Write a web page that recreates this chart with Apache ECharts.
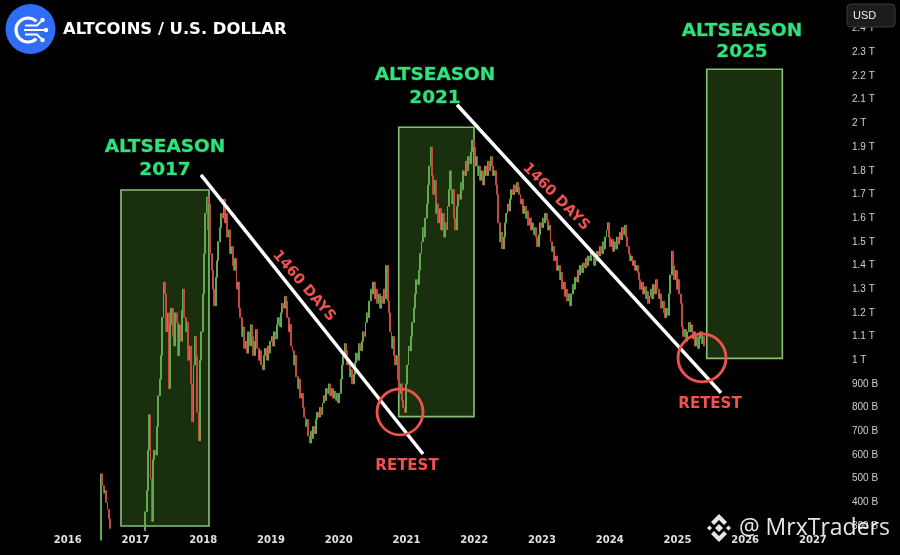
<!DOCTYPE html>
<html><head><meta charset="utf-8">
<script src="https://cdn.jsdelivr.net/npm/echarts@6/dist/echarts.min.js"></script>
<style>html,body{margin:0;padding:0;background:#000;}#c{width:900px;height:555px;}</style>
</head><body><div id="c"></div>
<script>
// weekly closes (in trillions USD), first week at startYear
const startYear = 2016.472;
const weekStep = 1 / 52;
const seg2016 = [0.24,0.52,0.47,0.44,0.45,0.40,0.37,0.33,0.29,0.28,0.27,0.26,0.27,0.25,0.26,0.24,0.25,0.23,0.24,0.22,0.23,0.22,0.24,0.23,0.25,0.24,0.26,0.25,0.27,0.26,0.28,0.27,0.28,0.27,0.28];
const seg2017 = [0.36,0.45,0.62,0.77,0.50,0.32,0.58,0.62,0.60,0.72,0.85,0.92,1.02,1.18,1.33,1.28,1.12,1.20,0.88,1.15,1.22,1.10,1.06,1.20,1.16,1.02,1.15,1.08,1.21,1.30,1.18,1.12,1.16,1.00,1.06,0.90,0.74,0.98,1.10,1.02,0.78,0.66,1.00,1.12];
const seg2018 = [1.28,1.45,1.62,1.69,1.55,1.66,1.45,1.38,1.30,1.23,1.35,1.42,1.50,1.56,1.62,1.60,1.68,1.58,1.62,1.52,1.55,1.45,1.48,1.40,1.38,1.43,1.30,1.33,1.22,1.18,1.10,1.14,1.05,1.08,1.03,1.12,1.06,1.15,1.10,1.02,1.08,1.13,1.05,1.00,1.04,0.98,0.96,1.02,1.05,1.00,1.06,1.03];
const seg2019 = [1.08,1.10,1.06,1.12,1.09,1.15,1.18,1.14,1.20,1.24,1.22,1.27,1.25,1.18,1.12,1.15,1.06,1.04,0.98,1.02,0.93,0.88,0.92,0.84,0.86,0.80,0.76,0.72,0.75,0.68,0.65,0.70,0.67,0.72,0.69,0.75,0.78,0.76,0.80,0.77,0.82,0.85,0.83,0.88,0.86,0.90,0.85,0.88,0.84,0.87,0.83,0.86,0.82,0.86];
const seg2020 = [0.92,0.98,1.02,1.07,1.04,0.98,1.00,0.93,0.96,0.90,0.94,0.99,1.03,1.00,1.07,1.04,1.08,1.12,1.10,1.16,1.20,1.18,1.25,1.30,1.28,1.33,1.26,1.30,1.24,1.28,1.22,1.27,1.24,1.30,1.26,1.40,1.25,1.20,1.12,1.05,1.10,1.02,0.98,1.02,0.92,0.86,0.90,0.83,0.80,0.78];
const seg2021 = [0.90,0.98,1.06,1.04,1.10,1.16,1.22,1.28,1.34,1.32,1.38,1.45,1.50,1.56,1.52,1.60,1.66,1.74,1.82,1.90,1.78,1.70,1.76,1.62,1.66,1.58,1.64,1.55,1.62,1.52,1.58,1.55,1.65,1.72,1.80,1.66,1.72,1.60,1.55,1.65,1.70,1.68,1.75,1.72,1.80,1.78,1.84,1.80,1.86,1.83,1.88,1.93];
const seg2022 = [1.90,1.82,1.86,1.78,1.82,1.76,1.80,1.74,1.78,1.82,1.78,1.84,1.80,1.86,1.82,1.78,1.80,1.74,1.70,1.58,1.50,1.54,1.47,1.52,1.58,1.62,1.66,1.63,1.68,1.72,1.70,1.74,1.71,1.75,1.73,1.70,1.66,1.68,1.62,1.65,1.60,1.63,1.57,1.60,1.55,1.58,1.53,1.56,1.52,1.48,1.53,1.58];
const seg2023 = [1.56,1.60,1.58,1.62,1.59,1.55,1.57,1.50,1.46,1.48,1.42,1.44,1.38,1.40,1.34,1.37,1.30,1.33,1.27,1.30,1.25,1.28,1.23,1.28,1.32,1.30,1.35,1.33,1.38,1.36,1.40,1.37,1.41,1.39,1.43,1.40,1.44,1.42,1.46,1.44,1.40,1.43,1.42,1.46,1.44,1.48,1.45,1.50,1.47,1.52,1.55,1.58];
const seg2024 = [1.52,1.48,1.51,1.46,1.50,1.47,1.52,1.49,1.54,1.51,1.56,1.53,1.57,1.52,1.48,1.45,1.42,1.44,1.40,1.42,1.38,1.40,1.37,1.34,1.30,1.33,1.28,1.31,1.26,1.29,1.24,1.27,1.30,1.26,1.32,1.28,1.34,1.30,1.26,1.28,1.22,1.25,1.20,1.18,1.22,1.19,1.28,1.36,1.46,1.40,1.34,1.38,1.30];
const seg2025 = [1.34,1.28,1.24,1.14,1.10,1.13,1.08,1.12,1.16,1.12,1.15,1.09,1.12,1.06,1.10,1.05,1.09,1.12,1.07,1.10,1.06];

// annotations in data coordinates [year, trillions]
const seasonBoxes = [
  [[2016.786, 0.30], [2018.085, 1.719]],
  [[2020.886, 0.762], [2021.997, 1.984]],
  [[2025.433, 1.008], [2026.549, 2.229]]
];
const trendLines = [
  [[2017.967, 1.783], [2021.245, 0.604]],
  [[2021.746, 2.079], [2025.644, 0.862]]
];
const retestPoints = [[2020.905, 0.782], [2025.363, 1.010]];

const closes = [].concat(seg2016, seg2017, seg2018, seg2019, seg2020, seg2021, seg2022, seg2023, seg2024, seg2025);
const candles = closes.map((c, i) => {
  const o = i === 0 ? c : closes[i - 1];
  return [startYear + i * weekStep, o, c, Math.min(o, c), Math.max(o, c)];
});

function yFmt(v) {
  const r = Math.round(v * 10) / 10;
  if (r >= 1) return r + ' T';
  return Math.round(r * 1000) + ' B';
}

const GREEN = '#2fe27c';
const RED = '#f0524f';
const seasonFont = 'bold 18.5px "DejaVu Sans"';
function seasonText(x, y, t) {
  return { type: 'text', x: x, y: y, z: 50, style: { text: t, fill: GREEN, font: seasonFont, align: 'center', verticalAlign: 'middle', stroke: 'rgba(47,226,124,0.35)', lineWidth: 0.8, shadowBlur: 14, shadowColor: 'rgba(47,226,124,0.9)' } };
}
function redText(x, y, t, rot, size) {
  return { type: 'text', x: x, y: y, rotation: rot, z: 50, style: { text: t, fill: RED, font: 'bold ' + size + 'px "DejaVu Sans"', align: 'center', verticalAlign: 'middle' } };
}
const WM = 'rgba(255,255,255,0.9)';

const chart = echarts.init(document.getElementById('c'), null, { renderer: 'canvas' });
chart.setOption({
  backgroundColor: '#000000',
  animation: false,
  grid: { left: 0, right: 60, top: 5, bottom: 29 },
  xAxis: {
    type: 'value', min: 2015, max: 2027.4, interval: 1,
    axisLine: { show: false }, axisTick: { show: false }, splitLine: { show: false },
    axisLabel: { color: '#e0e0e0', fontSize: 10, fontWeight: 'bold', fontFamily: 'DejaVu Sans', margin: 9, showMinLabel: false, showMaxLabel: false, formatter: v => String(Math.round(v)) }
  },
  yAxis: {
    type: 'value', position: 'right', min: 0.3, max: 2.5, interval: 0.1,
    axisLine: { show: false }, axisTick: { show: false }, splitLine: { show: false },
    axisLabel: { color: '#d0d0d0', fontSize: 10, fontFamily: 'Liberation Sans', margin: 12, showMaxLabel: false, formatter: yFmt }
  },
  series: [
    {
      type: 'candlestick', data: candles, barWidth: 1.4, z: 3, clip: true, silent: true,
      itemStyle: { color: '#62a84e', color0: '#c44a40', borderColor: '#62a84e', borderColor0: '#c44a40', borderWidth: 1 },
      markArea: {
        silent: true, z: 1,
        itemStyle: { color: '#1a2f0e', borderColor: '#87c178', borderWidth: 1.6 },
        label: { show: false },
        data: seasonBoxes.map(b => [{ coord: b[0] }, { coord: b[1] }])
      }
    },
    {
      type: 'scatter', z: 6, clip: false, silent: true,
      data: retestPoints.map((p, i) => ({ value: p, symbolSize: i === 0 ? 46 : 48 })),
      symbol: 'circle',
      itemStyle: { color: 'rgba(0,0,0,0)', borderColor: '#f0524f', borderWidth: 2.8, opacity: 1 },
      markLine: {
        silent: true, z: 5, symbol: ['none', 'none'],
        label: { show: false },
        lineStyle: { color: '#ffffff', width: 3.5, type: 'solid', opacity: 1 },
        data: trendLines.map(l => [{ coord: l[0] }, { coord: l[1] }])
      }
    }
  ],
  graphic: [
    // logo
    { type: 'circle', shape: { cx: 30.5, cy: 29, r: 25 }, style: { fill: '#2f6df6' }, z: 50 },
    { type: 'arc', shape: { cx: 28, cy: 30, r: 12, startAngle: 0.8, endAngle: Math.PI * 2 - 0.8, clockwise: true }, style: { stroke: '#fff', lineWidth: 3.2, fill: null }, z: 51 },
    { type: 'line', shape: { x1: 24, y1: 30, x2: 44, y2: 30 }, style: { stroke: '#fff', lineWidth: 2 }, z: 51 },
    { type: 'polyline', shape: { points: [[25, 25.5], [37, 25.5], [41, 21.5]] }, style: { stroke: '#fff', lineWidth: 2, fill: null }, z: 51 },
    { type: 'polyline', shape: { points: [[25, 34.5], [37, 34.5], [41, 38.5]] }, style: { stroke: '#fff', lineWidth: 2, fill: null }, z: 51 },
    { type: 'circle', shape: { cx: 46, cy: 30, r: 2.2 }, style: { fill: '#fff' }, z: 51 },
    { type: 'circle', shape: { cx: 42.5, cy: 20, r: 2.2 }, style: { fill: '#fff' }, z: 51 },
    { type: 'circle', shape: { cx: 42.5, cy: 40, r: 2.2 }, style: { fill: '#fff' }, z: 51 },
    { type: 'text', x: 63, y: 30, z: 50, style: { text: 'ALTCOINS / U.S. DOLLAR', fill: '#ffffff', font: 'bold 16.4px "DejaVu Sans"', verticalAlign: 'middle' } },
    // currency box
    { type: 'rect', shape: { x: 847, y: 4, width: 48, height: 23, r: 4 }, style: { fill: '#1c1c1c', stroke: '#3a3a3a', lineWidth: 1 }, z: 100 },
    { type: 'text', x: 853, y: 15.5, z: 101, style: { text: 'USD', fill: '#f0f0f0', font: '11px "Liberation Sans"', verticalAlign: 'middle' } },
    // season labels
    seasonText(165, 147, 'ALTSEASON'), seasonText(165, 170, '2017'),
    seasonText(435, 75, 'ALTSEASON'), seasonText(435, 98, '2021'),
    seasonText(742, 31, 'ALTSEASON'), seasonText(742, 52, '2025'),
    redText(304, 286, '1460 DAYS', -0.86, 14.5),
    redText(556, 197, '1460 DAYS', -0.79, 14.5),
    redText(407, 466, 'RETEST', 0, 15),
    redText(710, 404, 'RETEST', 0, 15),
    // watermark
    { type: 'polygon', shape: { points: [[719, 524], [723, 528], [719, 532], [715, 528]] }, style: { fill: WM }, z: 100 },
    { type: 'polygon', shape: { points: [[709.5, 525.5], [712, 528], [709.5, 530.5], [707, 528]] }, style: { fill: WM }, z: 100 },
    { type: 'polygon', shape: { points: [[728.5, 525.5], [731, 528], [728.5, 530.5], [726, 528]] }, style: { fill: WM }, z: 100 },
    { type: 'polygon', shape: { points: [[719, 514], [727, 522], [724, 525], [719, 520], [714, 525], [711, 522]] }, style: { fill: WM }, z: 100 },
    { type: 'polygon', shape: { points: [[719, 542], [727, 534], [724, 531], [719, 536], [714, 531], [711, 534]] }, style: { fill: WM }, z: 100 },
    { type: 'text', x: 739, y: 528, z: 100, style: { text: '@ MrxTraders', fill: WM, font: '23px "Open Sans"', verticalAlign: 'middle' } }
  ]
});
</script></body></html>
